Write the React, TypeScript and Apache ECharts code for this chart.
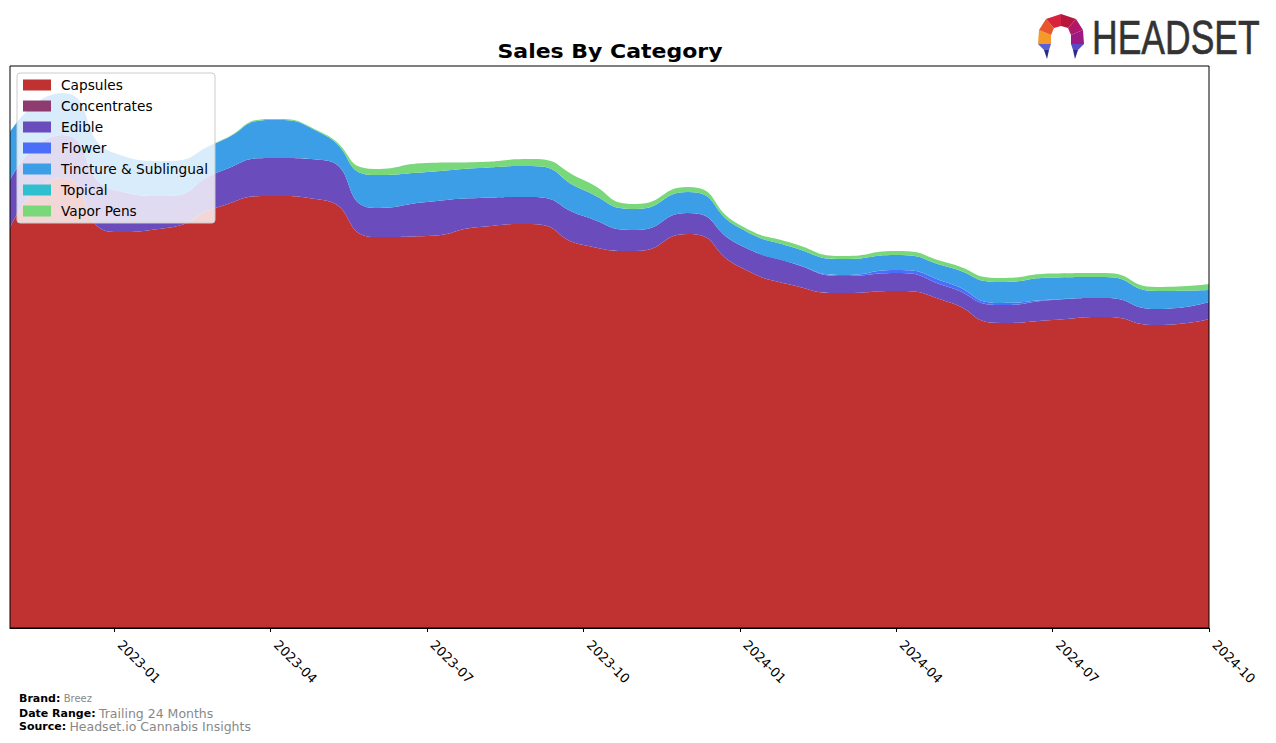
import React, { useEffect, useRef } from "react";
import * as echarts from "echarts";

const months = [
  "2022-11", "2022-12", "2023-01", "2023-02", "2023-03", "2023-04", "2023-05", "2023-06",
  "2023-07", "2023-08", "2023-09", "2023-10", "2023-11", "2023-12", "2024-01", "2024-02",
  "2024-03", "2024-04", "2024-05", "2024-06", "2024-07", "2024-08", "2024-09", "2024-10",
];

const capsules = [400, 450, 396, 400, 421, 432, 428, 391, 392, 401, 404, 383, 377, 394, 361, 343, 335, 337, 326, 305, 308, 311, 303, 309];
const concentrates = [0, 0, 0, 0, 0, 0, 0, 0, 0, 0, 0, 0, 0, 0, 0, 0, 0, 0, 0, 0, 0, 0, 0, 0];
const edible = [48, 43, 42, 32, 35, 38, 40, 29, 34, 29, 27, 29, 21, 21, 22, 22, 17, 18, 15, 18, 20, 19, 16, 17];
const flower = [0, 0, 0, 0, 0, 0, 0, 0, 0, 0, 0, 0, 0, 0, 0, 0, 1, 3, 4, 2, 0.5, 0, 0, 0];
const tincture = [48, 42, 37, 35, 30, 38, 26, 33, 30, 30, 31, 26, 21, 21, 17, 16, 16, 15, 16, 21, 22, 21, 18, 12];
const topical = [0, 0, 0, 0, 0, 0, 0, 0, 0, 0, 0, 0, 0, 0, 0, 0, 0, 0, 0, 0, 0, 0, 0, 0];
const vaporPens = [0, 0, 0, 0, 0.5, 1, 1, 6, 9, 6, 7, 10, 5, 5, 3, 4, 3, 4, 4, 4, 4, 4, 4, 6];

const tickMonths = ["2023-01", "2023-04", "2023-07", "2023-10", "2024-01", "2024-04", "2024-07", "2024-10"];

const seriesDefs = [
  { name: "Capsules", data: capsules, color: "#c03232" },
  { name: "Concentrates", data: concentrates, color: "#8e3b6f" },
  { name: "Edible", data: edible, color: "#6a4cbd" },
  { name: "Flower", data: flower, color: "#4a6ef7" },
  { name: "Tincture & Sublingual", data: tincture, color: "#3d9ee8" },
  { name: "Topical", data: topical, color: "#30bfcf" },
  { name: "Vapor Pens", data: vaporPens, color: "#78d87a" },
];

const FONT = "DejaVu Sans";

export default function App() {
  const ref = useRef<HTMLDivElement>(null);
  useEffect(() => {
    if (!ref.current) return;
    const chart = echarts.init(ref.current, null, { renderer: "svg" });
    const showTick = (i: number) => tickMonths.includes(months[i]);
    chart.setOption({
      animation: false,
      backgroundColor: "#ffffff",
      textStyle: { fontFamily: FONT },
      grid: {
        left: 10,
        top: 66,
        width: 1199,
        height: 562,
        show: true,
        borderColor: "#000",
        borderWidth: 1,
        backgroundColor: "transparent",
        z: 10,
      },
      legend: {
        orient: "vertical",
        left: 17,
        top: 73,
        padding: [5, 7, 5, 6],
        itemWidth: 28,
        itemHeight: 11,
        itemGap: 7,
        icon: "rect",
        backgroundColor: "rgba(255,255,255,0.8)",
        borderColor: "#cccccc",
        borderWidth: 1,
        borderRadius: 3,
        textStyle: { fontFamily: FONT, fontSize: 13.7, color: "#000", padding: [0, 0, 0, 5] },
        data: seriesDefs.map((s) => s.name),
      },
      xAxis: {
        type: "category",
        data: months,
        boundaryGap: false,
        axisLine: { show: true, lineStyle: { color: "#000", width: 1 } },
        axisTick: { show: true, length: 4, lineStyle: { color: "#000" }, interval: (i: number) => showTick(i) },
        splitLine: { show: false },
        axisLabel: {
          interval: (i: number) => showTick(i),
          rotate: -45,
          margin: 9,
          padding: [0, 0, 0, 8],
          fontFamily: FONT,
          fontSize: 13,
          color: "#000",
        },
      },
      yAxis: {
        type: "value",
        min: 0,
        max: 562,
        axisLine: { show: false },
        axisTick: { show: false },
        axisLabel: { show: false },
        splitLine: { show: false },
      },
      series: seriesDefs.map((s) => ({
        name: s.name,
        type: "line",
        stack: "total",
        smooth: 0.6,
        symbol: "none",
        lineStyle: { width: 0 },
        areaStyle: { color: s.color, opacity: 1 },
        itemStyle: { color: s.color },
        data: s.data,
      })),
      graphic: [
        {
          type: "text",
          x: 610,
          y: 51,
          scaleX: 1.1,
          style: {
            text: "Sales By Category",
            align: "center",
            verticalAlign: "middle",
            font: `bold 20px "${FONT}"`,
            fill: "#000",
          },
        },
        { type: "polygon", shape: { points: [[1038, 44], [1039, 30], [1051, 35], [1051, 44]] }, style: { fill: "#f39a2a" } },
        { type: "polygon", shape: { points: [[1039, 30], [1046, 19], [1054, 28], [1051, 35]] }, style: { fill: "#e8562c" } },
        { type: "polygon", shape: { points: [[1046, 19], [1061, 14], [1061, 26], [1054, 28]] }, style: { fill: "#d8223e" } },
        { type: "polygon", shape: { points: [[1061, 14], [1076, 19], [1068, 28], [1061, 26]] }, style: { fill: "#b8163c" } },
        { type: "polygon", shape: { points: [[1076, 19], [1083, 30], [1071, 35], [1068, 28]] }, style: { fill: "#b0186c" } },
        { type: "polygon", shape: { points: [[1083, 30], [1084, 44], [1071, 44], [1071, 35]] }, style: { fill: "#9c1a82" } },
        { type: "polygon", shape: { points: [[1038, 44], [1051, 44], [1049, 50], [1044, 50]] }, style: { fill: "#5b5fd6" } },
        { type: "polygon", shape: { points: [[1044, 50], [1049, 50], [1047, 59]] }, style: { fill: "#2b2c85" } },
        { type: "polygon", shape: { points: [[1071, 44], [1084, 44], [1078, 50], [1073, 50]] }, style: { fill: "#5b4ac8" } },
        { type: "polygon", shape: { points: [[1073, 50], [1078, 50], [1075, 59]] }, style: { fill: "#2b2c85" } },
        {
          type: "text",
          x: 1092,
          y: 38,
          scaleX: 0.74,
          style: {
            text: "HEADSET",
            align: "left",
            verticalAlign: "middle",
            font: `48px "Liberation Sans"`,
            fill: "#333333",
            stroke: "#333333",
            lineWidth: 0.6,
          },
        },
        {
          type: "text",
          x: 19,
          y: 698,
          style: {
            text: "{b|Brand:} {v|Breez}",
            verticalAlign: "middle",
            rich: {
              b: { fontFamily: FONT, fontWeight: "bold", fontSize: 11, fill: "#000" },
              v: { fontFamily: FONT, fontSize: 10, fill: "#888888" },
            },
          },
        },
        {
          type: "text",
          x: 19,
          y: 713,
          style: {
            text: "{b|Date Range:} {v|Trailing 24 Months}",
            verticalAlign: "middle",
            rich: {
              b: { fontFamily: FONT, fontWeight: "bold", fontSize: 11, fill: "#000" },
              v: { fontFamily: FONT, fontSize: 12.5, fill: "#888888" },
            },
          },
        },
        {
          type: "text",
          x: 19,
          y: 726,
          style: {
            text: "{b|Source:} {v|Headset.io Cannabis Insights}",
            verticalAlign: "middle",
            rich: {
              b: { fontFamily: FONT, fontWeight: "bold", fontSize: 11, fill: "#000" },
              v: { fontFamily: FONT, fontSize: 12.5, fill: "#888888" },
            },
          },
        },
      ],
    });
    return () => chart.dispose();
  }, []);
  return (
    <div
      ref={ref}
      style={{ position: "fixed", left: 0, top: 0, width: 1276, height: 743 }}
    />
  );
}
